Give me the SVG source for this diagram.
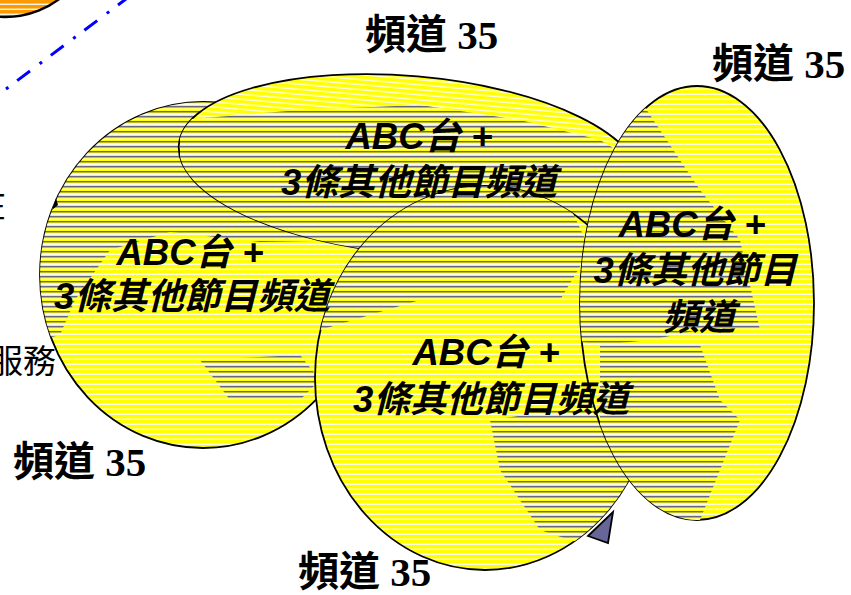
<svg xmlns="http://www.w3.org/2000/svg" width="851" height="595" viewBox="0 0 851 595">
<style>
.ell{stroke:#000;stroke-width:1.8;fill:url(#hatchY)}
.lbl{font-family:"Liberation Sans","Noto Sans CJK TC",sans-serif;font-weight:bold;font-style:italic;font-size:36.5px;fill:#000;text-anchor:middle}
.ch{font-family:"Liberation Serif","Noto Sans CJK TC",serif;font-weight:bold;font-size:41px;fill:#000}
.side{font-family:"Liberation Sans","Noto Sans CJK TC",sans-serif;font-size:33px;fill:#000;text-anchor:end}
.dark{fill:url(#hatchD);stroke:none}
</style>
<defs>
<pattern id="hatchY" patternUnits="userSpaceOnUse" width="10" height="5">
<rect width="10" height="5" fill="#ffff00"/>
<rect y="3.6" width="10" height="1.3" fill="#ffffff"/>
</pattern>
<pattern id="hatchD" patternUnits="userSpaceOnUse" width="10" height="5">
<rect width="10" height="5" fill="#ffff00"/>
<rect y="3.6" width="10" height="1.3" fill="#ffffff"/>
<rect y="1.1" width="10" height="1.3" fill="#55558f"/>
</pattern>
<pattern id="hatchO" patternUnits="userSpaceOnUse" width="10" height="5">
<rect width="10" height="5" fill="#ff9900"/>
<rect y="3.6" width="10" height="1.3" fill="#ffffff"/>
</pattern>
<clipPath id="cLeft"><ellipse cx="203" cy="275" rx="163" ry="173"/></clipPath>
<clipPath id="cTop"><ellipse cx="410" cy="165" rx="232" ry="89" transform="rotate(5 410 165)"/></clipPath>
<clipPath id="cBot"><ellipse cx="485" cy="378" rx="170" ry="192"/></clipPath>
<clipPath id="cRight"><ellipse cx="697" cy="303" rx="117" ry="217"/></clipPath>
</defs>

<g id="orange-circle">
<circle cx="5" cy="-74" r="91" fill="url(#hatchO)" stroke="#000" stroke-width="2.4"/>
</g>

<g id="connectors">
<line x1="6" y1="89" x2="130" y2="-4" stroke="#0000ff" stroke-width="3" stroke-dasharray="3 11 16 12"/>
</g>

<g id="side-text">
<text class="side" x="6" y="217">在</text>
<text class="side" x="56" y="373">服務</text>
</g>

<g id="node-left">
<ellipse class="ell" cx="203" cy="275" rx="163" ry="173"/>
<g clip-path="url(#cLeft)">
<polygon class="dark" points="40,100 370,100 370,240 260,242 170,232 110,250 75,300 60,335 40,340"/>
<polygon class="dark" points="200,360 300,355 320,380 300,400 230,400"/>
</g>
<path d="M56,198 L52,210 L58,205 Z" fill="#000"/>
</g>

<g id="node-top">
<ellipse class="ell" cx="410" cy="165" rx="232" ry="89" transform="rotate(5 410 165)"/>
<g clip-path="url(#cTop)">
<polygon class="dark" points="180,120 300,110 420,105 520,120 600,140 650,170 650,260 180,260"/>
</g>
</g>

<g id="node-bottom">
<ellipse class="ell" cx="485" cy="378" rx="170" ry="192"/>
<g clip-path="url(#cBot)">
<polygon class="dark" points="310,185 560,185 590,250 560,300 420,300 320,330"/>
<polygon class="dark" points="490,420 560,410 650,400 660,570 540,530 500,470"/>
</g>
</g>

<g id="node-right">
<ellipse class="ell" cx="697" cy="303" rx="117" ry="217"/>
<g clip-path="url(#cRight)">
<polygon class="dark" points="570,80 640,100 700,190 740,240 760,330 700,330 650,340 600,345 570,340"/>
<polygon class="dark" points="600,345 700,345 720,400 740,420 700,520 600,520"/>
</g>
</g>

<polygon id="pointer" points="613,512 608,543 588,536" fill="#666699" stroke="#000" stroke-width="1.8" stroke-linejoin="miter"/>

<g id="labels">
<text class="lbl" x="419" y="149">ABC台 +</text>
<text class="lbl" x="419" y="195">3條其他節目頻道</text>
<text class="lbl" x="190" y="265">ABC台 +</text>
<text class="lbl" x="192" y="309">3條其他節目頻道</text>
<text class="lbl" x="486" y="365">ABC台 +</text>
<text class="lbl" x="491" y="412">3條其他節目頻道</text>
<text class="lbl" x="692" y="237">ABC台 +</text>
<text class="lbl" x="695" y="283">3條其他節目</text>
<text class="lbl" x="699" y="330">頻道</text>
</g>

<g id="channel-labels">
<text class="ch" x="365" y="49">頻道 35</text>
<text class="ch" x="712" y="78">頻道 35</text>
<text class="ch" x="13" y="476">頻道 35</text>
<text class="ch" x="298" y="586">頻道 35</text>
</g>
</svg>
